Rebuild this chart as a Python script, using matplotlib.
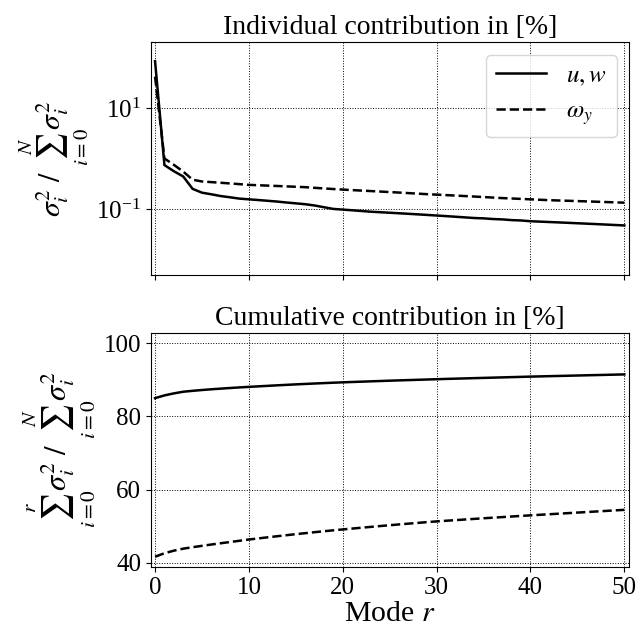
import matplotlib
matplotlib.use("Agg")
import matplotlib.pyplot as plt
import matplotlib.ticker as mtick
import numpy as np

plt.rcParams['font.family'] = ['Liberation Serif', 'DejaVu Serif']
plt.rcParams['mathtext.fontset'] = 'stix'
plt.rcParams['font.size'] = 18

modes = np.arange(51)

# individual contribution in percent
indiv_uw = [85.0, 0.74, 0.56, 0.44, 0.25, 0.21, 0.195, 0.18, 0.17, 0.16,
            0.155, 0.15, 0.145, 0.14, 0.134, 0.129, 0.124, 0.117, 0.108, 0.10,
            0.097, 0.094, 0.091, 0.088, 0.086, 0.084, 0.082, 0.080, 0.078, 0.076,
            0.074, 0.072, 0.070, 0.068, 0.066, 0.065, 0.063, 0.062, 0.060, 0.059,
            0.057, 0.056, 0.055, 0.054, 0.053, 0.052, 0.051, 0.050, 0.049, 0.048,
            0.047]
indiv_om = [42.0, 1.0, 0.75, 0.55, 0.38, 0.35, 0.34, 0.33, 0.32, 0.31,
            0.30, 0.295, 0.29, 0.285, 0.28, 0.275, 0.27, 0.262, 0.255, 0.248,
            0.242, 0.236, 0.231, 0.226, 0.221, 0.216, 0.211, 0.206, 0.201, 0.196,
            0.192, 0.188, 0.184, 0.180, 0.176, 0.172, 0.168, 0.164, 0.161, 0.158,
            0.155, 0.152, 0.149, 0.147, 0.145, 0.143, 0.141, 0.139, 0.137, 0.135,
            0.133]

# cumulative contribution in percent
cum_uw = [85.0, 85.75, 86.3, 86.75, 87.0, 87.22, 87.42, 87.6, 87.77, 87.93,
          88.08, 88.22, 88.36, 88.5, 88.63, 88.76, 88.88, 89.0, 89.11, 89.22,
          89.32, 89.41, 89.5, 89.59, 89.68, 89.77, 89.85, 89.93, 90.01, 90.09,
          90.17, 90.25, 90.32, 90.39, 90.46, 90.53, 90.6, 90.67, 90.74, 90.81,
          90.88, 90.94, 91.0, 91.06, 91.12, 91.18, 91.24, 91.3, 91.36, 91.42,
          91.48]
cum_om = [41.7, 42.65, 43.35, 43.9, 44.3, 44.67, 45.03, 45.38, 45.72, 46.06,
          46.4, 46.7, 47.0, 47.29, 47.58, 47.86, 48.13, 48.4, 48.66, 48.91,
          49.15, 49.39, 49.62, 49.85, 50.08, 50.3, 50.52, 50.73, 50.94, 51.15,
          51.35, 51.52, 51.69, 51.86, 52.03, 52.2, 52.36, 52.52, 52.68, 52.84,
          53.0, 53.15, 53.3, 53.45, 53.6, 53.75, 53.9, 54.05, 54.2, 54.35,
          54.5]

labels = [r'$u, w$', r'$\omega_y$']

fig = plt.figure(figsize=(6.41, 6.33), dpi=100)
ax1 = fig.add_axes([0.2356, 0.5656, 0.7457, 0.368])
ax2 = fig.add_axes([0.2356, 0.1043, 0.7457, 0.3697], sharex=ax1)

lw = 1.8
ax1.semilogy(modes, indiv_uw, 'k-', lw=lw, label=labels[0])
ax1.semilogy(modes, indiv_om, 'k--', lw=lw, label=labels[1])
ax1.set_ylim(10**-2.31, 10**2.31)
ax1.yaxis.set_major_locator(mtick.FixedLocator([0.1, 10]))
ax1.yaxis.set_minor_locator(mtick.NullLocator())
ax1.set_title('Individual contribution in [%]', fontsize=20)
ax1.set_ylabel(r'$\sigma_i^2\ /\ \sum_{i=0}^{N}\sigma_i^2$', fontsize=21.5)
ax1.legend(loc='upper right', fontsize=18, handlelength=2.0)
ax1.tick_params(labelbottom=False)

ax2.plot(modes, cum_uw, 'k-', lw=lw)
ax2.plot(modes, cum_om, 'k--', lw=lw)
ax2.set_ylim(38.9, 102.8)
ax2.set_yticks([40, 60, 80, 100])
ax2.set_xlim(-0.43, 50.5)
ax2.set_xticks([0, 10, 20, 30, 40, 50])
ax2.set_title('Cumulative contribution in [%]', fontsize=20)
ax2.set_ylabel(r'$\sum_{i=0}^{r}\sigma_i^2\ /\ \sum_{i=0}^{N}\sigma_i^2$', fontsize=22)
ax2.set_xlabel(r'Mode $r$', fontsize=21.5, labelpad=2)

for ax in (ax1, ax2):
    ax.grid(True, which='major', color='k', linestyle=':', linewidth=0.7)
    ax.tick_params(labelsize=18)

fig.savefig('out.png', dpi=100)
